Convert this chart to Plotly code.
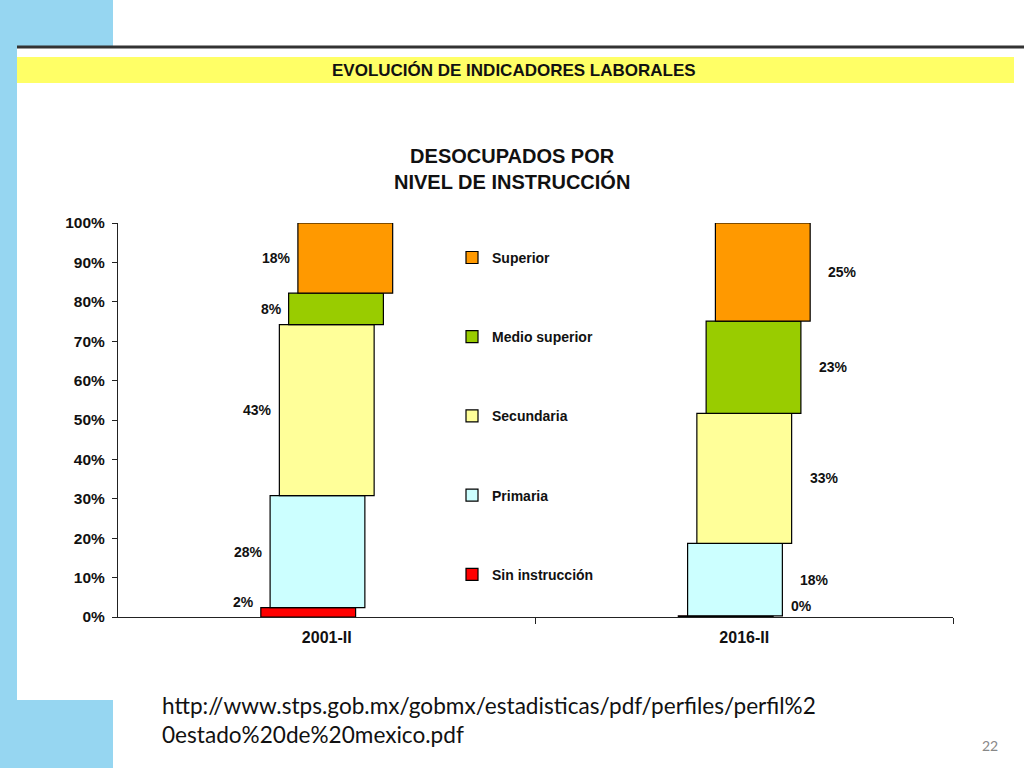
"""
Desocupados por nivel de instrucción: staggered stacked bars, 2001-II vs 2016-II
"""
import plotly.graph_objects as go

# Data
periods = ["2001-II", "2016-II"]
levels = ["Sin instrucción", "Primaria", "Secundaria", "Medio superior", "Superior"]
share_2001 = [2.4, 28.4, 43.4, 8.0, 17.8]
share_2016 = [0.3, 18.4, 33.0, 23.4, 24.9]
y_ticks = [0, 10, 20, 30, 40, 50, 60, 70, 80, 90, 100]

colors = ["#ff0000", "#ccffff", "#ffff99", "#99cc00", "#ff9900"]
FONT = "Liberation Sans, Arial, sans-serif"
BAR_W = 0.227
STEP = 0.0222  # horizontal shift between stacked segments

fig = go.Figure()

series = [share_2001, share_2016]
bases = []
for vals in series:
    acc, b = 0, []
    for v in vals:
        b.append(acc)
        acc += v
    bases.append(b)

for i, level in enumerate(levels):
    off = (i - 2) * STEP
    fig.add_trace(go.Bar(
        x=[p + off for p in range(len(periods))],
        y=[series[p][i] for p in range(len(periods))],
        base=[bases[p][i] for p in range(len(periods))],
        width=BAR_W,
        name=level,
        legendgroup=level,
        legendrank=len(levels) - i,
        marker=dict(color=colors[i], line=dict(color="#000000", width=1.2)),
        hoverinfo="skip",
    ))

    # value labels: left of bars in 2001, right of bars in 2016
    for p in range(len(periods)):
        v = series[p][i]
        mid = bases[p][i] + v / 2
        left = p == 0
        fig.add_annotation(
            x=p + off + (-BAR_W / 2 if left else BAR_W / 2),
            y=mid,
            xref="x", yref="y",
            text=f"{round(v)}%",
            showarrow=False,
            xanchor="right" if left else "left",
            yanchor="middle",
            xshift=-5 if left else 16,
            yshift=10 if v < 5 else 0,
            font=dict(family=FONT, size=14, color="#111111", weight="bold"),
        )

# slide decoration (pixel boxes converted to paper coords)
W, H = 1024, 768
L, R, T, B = 118, 71, 223, 151
pw, ph = W - L - R, H - T - B


def px_x(x):
    return (x - L) / pw


def px_y(y):
    return 1 - (y - T) / ph


blue = "#96d6f1"
shapes_px = [
    (0, 0, 113, 47, blue),
    (0, 47, 17, 700, blue),
    (0, 700, 113, 768, blue),
    (17, 57, 1014, 83, "#ffff66"),
]
for x0, y0, x1, y1, c in shapes_px:
    fig.add_shape(type="rect", xref="paper", yref="paper",
                  x0=px_x(x0), x1=px_x(x1), y0=px_y(y1), y1=px_y(y0),
                  line_width=0, fillcolor=c, layer="below")
fig.add_shape(type="line", xref="paper", yref="paper",
              x0=px_x(17), x1=px_x(1024), y0=px_y(47), y1=px_y(47),
              line=dict(color="#333333", width=3))


def note(x, y, text, size, family=FONT, color="#111111", bold=True, **kw):
    fig.add_annotation(xref="paper", yref="paper", x=px_x(x), y=px_y(y),
                       text=text, showarrow=False, yanchor="middle",
                       font=dict(family=family, size=size, color=color,
                                 weight="bold" if bold else "normal"), **kw)


note(514, 71, "EVOLUCIÓN DE INDICADORES LABORALES", 17, xanchor="center")
note(512, 169, "DESOCUPADOS POR<br>NIVEL DE INSTRUCCIÓN", 20, xanchor="center")
note(160, 720,
     "http://www.stps.gob.mx/gobmx/estadisticas/pdf/perfiles/perfil%2<br>0estado%20de%20mexico.pdf",
     22.6, family="Lato, sans-serif", bold=False, xanchor="left", align="left")
note(990, 745, "22", 14, family="Lato, sans-serif", color="#888888", bold=False,
     xanchor="center")

fig.update_layout(
    width=W, height=H,
    margin=dict(l=L, r=R, t=T, b=B),
    paper_bgcolor="white", plot_bgcolor="rgba(0,0,0,0)",
    barmode="overlay",
    showlegend=True,
    legend=dict(
        x=0.40, y=0.952, xanchor="left", yanchor="top",
        traceorder="grouped", tracegroupgap=58,
        bgcolor="rgba(0,0,0,0)",
        font=dict(family=FONT, size=14, color="#111111", weight="bold"),
        itemwidth=30,
    ),
    font=dict(family=FONT, color="#111111"),
)
fig.update_xaxes(
    range=[-0.5, 1.5],
    tickmode="array", tickvals=list(range(len(periods))),
    ticktext=periods,
    ticks="", showgrid=False, zeroline=False,
    showline=True, linecolor="#222222", linewidth=1,
    ticklabelstandoff=6,
    tickfont=dict(family=FONT, size=16, weight="bold"),
    minor=dict(tickmode="array", tickvals=[0.5, 1.5], ticks="outside",
               ticklen=6, tickcolor="#222222"),
)
fig.update_yaxes(
    range=[0, 100],
    tickmode="array", tickvals=y_ticks,
    ticktext=[f"{t}%" for t in y_ticks],
    ticks="outside", ticklen=5, tickcolor="#222222",
    showgrid=False, zeroline=False,
    showline=True, linecolor="#222222", linewidth=1,
    ticklabelstandoff=4,
    tickfont=dict(family=FONT, size=15.5, weight="bold"),
)

fig.write_html("out.html", config={"displayModeBar": False},
               post_script="document.body.style.margin='0';")
